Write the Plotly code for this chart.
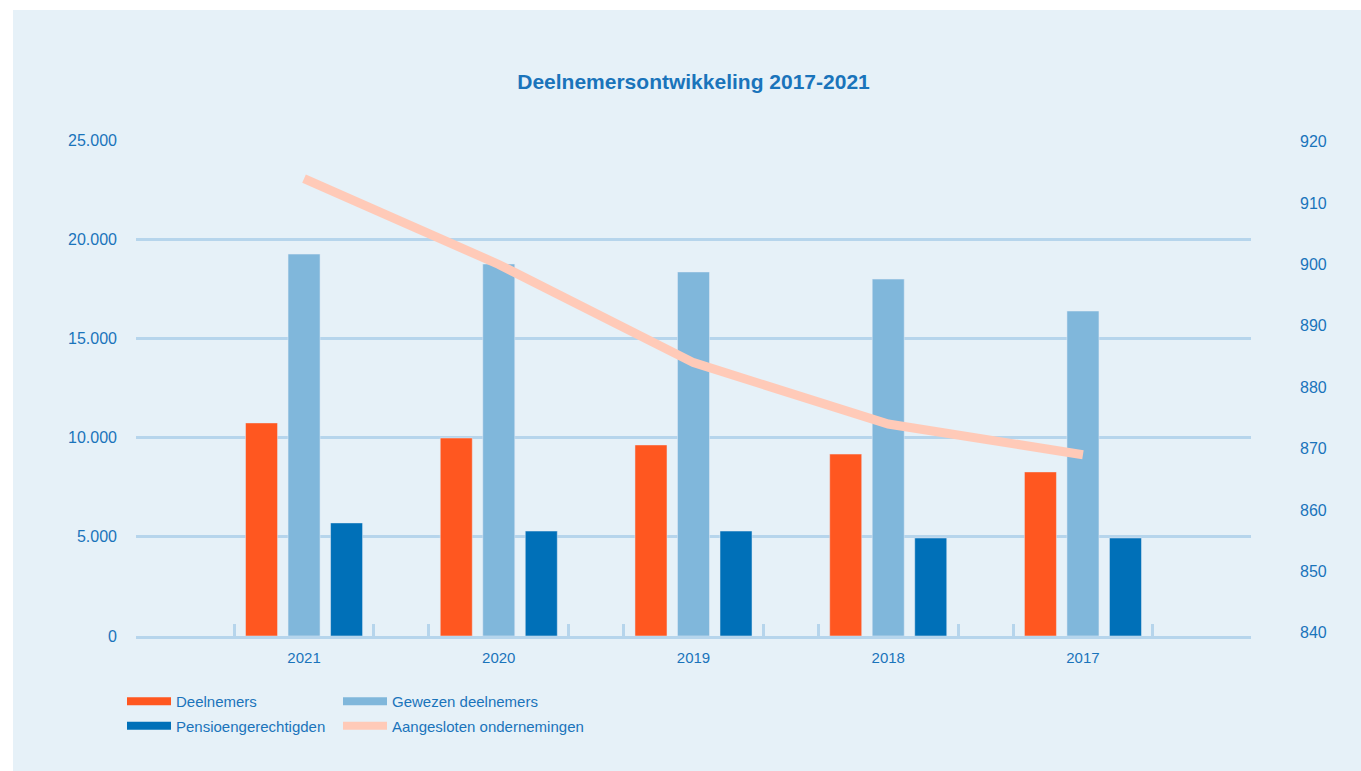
import plotly.graph_objects as go

years = ["2021", "2020", "2019", "2018", "2017"]
deelnemers = [10740, 9980, 9630, 9170, 8270]
gewezen = [19250, 18750, 18350, 17990, 16380]
pensioen = [5700, 5290, 5290, 4940, 4940]
aangesloten = [914, 900, 884, 874, 869]

left_ticks = [0, 5000, 10000, 15000, 20000, 25000]
left_labels = ["0", "5.000", "10.000", "15.000", "20.000", "25.000"]
right_ticks = [840, 850, 860, 870, 880, 890, 900, 910, 920]

C_OR = "#FF5720"
C_LB = "#80B7DB"
C_DB = "#0070B8"
C_PE = "#FFCAB8"
C_BG = "#E6F1F8"
C_GRID = "#B6D5EC"
C_TXT = "#1A74BB"
FONT = "Liberation Sans, Arial, sans-serif"

xpos = list(range(len(years)))
edge_ticks = []
for i in xpos:
    edge_ticks += [i - 0.359, i + 0.359]

fig = go.Figure()
fig.add_bar(x=xpos, y=deelnemers, name="Deelnemers", marker_color=C_OR, showlegend=False)
fig.add_bar(x=xpos, y=gewezen, name="Gewezen deelnemers", marker_color=C_LB, showlegend=False)
fig.add_bar(x=xpos, y=pensioen, name="Pensioengerechtigden", marker_color=C_DB, showlegend=False)
fig.add_scatter(x=xpos, y=aangesloten, yaxis="y2", mode="lines",
                name="Aangesloten ondernemingen", line=dict(color=C_PE, width=9),
                showlegend=False)

# legend entries (wide rectangle keys as in the original)
legend_items = [
    ("Deelnemers", C_OR, "legend", "a", 1),
    ("Pensioengerechtigden", C_DB, "legend", "c", 2),
    ("Gewezen deelnemers", C_LB, "legend2", "b", 1),
    ("Aangesloten ondernemingen", C_PE, "legend2", "d", 2),
]
for name, col, lg, grp, rank in legend_items:
    fig.add_scatter(x=[None], y=[None], mode="lines", name=name,
                    line=dict(color=col, width=8), legend=lg,
                    legendgroup=grp, legendrank=rank, hoverinfo="skip")

W, H = 1361, 771
L, R, T, B = 136, 110, 140, 135
pw, ph = W - L - R, H - T - B

def px_x(p):
    return (p - L) / pw

def px_y(p):
    return (H - B - p) / ph

fig.add_shape(type="rect", xref="paper", yref="paper",
              x0=px_x(13), x1=px_x(1400), y0=px_y(800), y1=px_y(10),
              fillcolor=C_BG, line_width=0, layer="below")

legend_common = dict(
    orientation="v", font=dict(family=FONT, size=15, color=C_TXT),
    bgcolor="rgba(0,0,0,0)", borderwidth=0, tracegroupgap=2,
    itemwidth=44, xanchor="left", yanchor="top", itemclick=False,
    traceorder="grouped",
)

fig.update_layout(
    width=W, height=H,
    margin=dict(l=L, r=R, t=T, b=B, pad=0),
    paper_bgcolor="white", plot_bgcolor="rgba(0,0,0,0)",
    barmode="group", bargap=0.345, bargroupgap=0.247,
    title=dict(text="<b>Deelnemersontwikkeling 2017-2021</b>", x=0.5, xref="paper",
               xanchor="center", y=1 - 82 / H, yanchor="middle",
               font=dict(family=FONT, size=21, color=C_TXT)),
    font=dict(family=FONT, color=C_TXT),
    xaxis=dict(range=[-0.863, 4.863], tickvals=xpos, ticktext=years, ticks="",
               showgrid=False, zeroline=False, showline=True, linecolor=C_GRID,
               linewidth=2.5, tickfont=dict(size=15, color=C_TXT),
               ticklabelstandoff=6,
               minor=dict(tickvals=edge_ticks, ticks="inside", ticklen=12,
                          tickwidth=2.5, tickcolor=C_GRID, showgrid=False)),
    yaxis=dict(range=[0, 25000], tickvals=left_ticks, ticktext=left_labels,
               showgrid=True, gridcolor=C_GRID, gridwidth=2.5, zeroline=False,
               showline=False, ticks="", tickfont=dict(size=16, color=C_TXT),
               ticklabelstandoff=18),
    yaxis2=dict(range=[839.46, 920.28], overlaying="y", side="right",
                tickvals=right_ticks, showgrid=False, zeroline=False,
                showline=False, ticks="", tickfont=dict(size=16, color=C_TXT),
                ticklabelstandoff=48),
    legend=dict(x=px_x(122), y=px_y(685), **legend_common),
    legend2=dict(x=px_x(338), y=px_y(685), **legend_common),
)

fig.write_html("out.html")
